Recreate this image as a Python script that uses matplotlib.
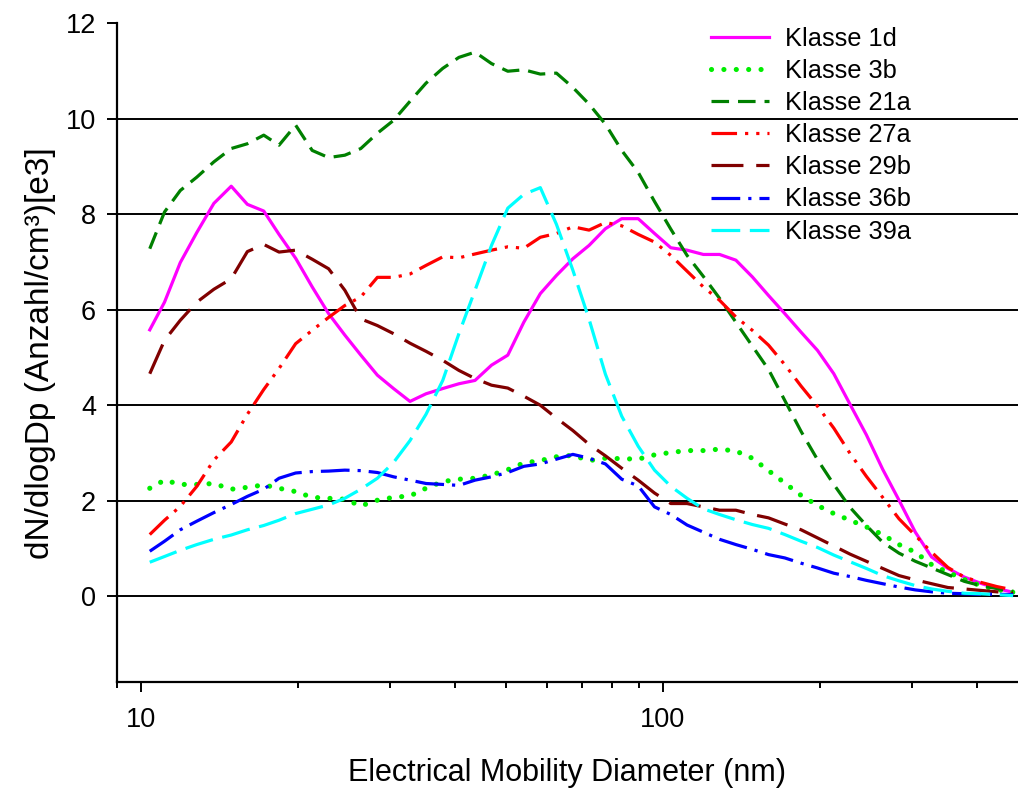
import matplotlib
matplotlib.use("Agg")
import matplotlib.pyplot as plt
from matplotlib.ticker import FixedLocator, NullFormatter

plt.rcParams['font.family'] = ['Liberation Sans', 'DejaVu Sans']

# Electrical mobility diameter channels (nm)
diameter = [10.4, 11.1, 11.9, 12.8, 13.8, 14.9, 16.0, 17.2, 18.4, 19.8,
            21.3, 22.9, 24.6, 26.4, 28.4, 30.5, 32.8, 35.2, 37.9, 40.7,
            43.7, 47.0, 50.5, 54.2, 58.3, 62.6, 67.3, 72.3, 77.7, 83.5,
            89.8, 96.5, 103.7, 111.4, 119.7, 128.6, 138.2, 148.6, 159.6, 171.5,
            184.3, 198.1, 212.9, 228.7, 245.8, 264.1, 283.9, 305.1, 327.8, 352.3,
            378.6, 406.8, 437.1, 469.8]

klasse_1d = [5.58, 6.16, 6.99, 7.62, 8.23, 8.59, 8.21, 8.07, 7.58, 7.08,
             6.48, 5.92, 5.47, 5.05, 4.63, 4.35, 4.08, 4.24, 4.35, 4.45,
             4.52, 4.84, 5.05, 5.74, 6.34, 6.72, 7.07, 7.35, 7.70, 7.91,
             7.91, 7.60, 7.30, 7.25, 7.16, 7.16, 7.04, 6.69, 6.30, 5.92,
             5.53, 5.15, 4.66, 4.02, 3.38, 2.66, 2.01, 1.34, 0.82, 0.58,
             0.40, 0.27, 0.16, 0.08]

klasse_3b = [2.26, 2.43, 2.34, 2.34, 2.36, 2.24, 2.28, 2.33, 2.26, 2.19,
             2.07, 2.05, 2.03, 1.89, 2.01, 2.07, 2.10, 2.26, 2.40, 2.45,
             2.47, 2.54, 2.65, 2.79, 2.84, 2.92, 2.95, 2.84, 2.89, 2.88,
             2.87, 2.96, 3.01, 3.05, 3.05, 3.08, 3.04, 2.89, 2.63, 2.37,
             2.11, 1.90, 1.73, 1.59, 1.45, 1.29, 1.08, 0.92, 0.66, 0.50,
             0.35, 0.22, 0.14, 0.08]

klasse_21a = [7.28, 8.05, 8.50, 8.78, 9.10, 9.38, 9.48, 9.66, 9.45, 9.87,
              9.34, 9.19, 9.24, 9.38, 9.70, 9.97, 10.37, 10.75, 11.06, 11.29,
              11.40, 11.16, 11.00, 11.03, 10.94, 10.96, 10.66, 10.31, 9.89, 9.34,
              8.88, 8.27, 7.69, 7.14, 6.70, 6.24, 5.74, 5.24, 4.75, 4.10,
              3.45, 2.86, 2.34, 1.86, 1.48, 1.13, 0.90, 0.73, 0.59, 0.45,
              0.31, 0.22, 0.16, 0.10]

klasse_27a = [1.29, 1.59, 1.88, 2.30, 2.85, 3.23, 3.81, 4.33, 4.77, 5.29,
              5.57, 5.84, 6.09, 6.27, 6.68, 6.68, 6.75, 6.93, 7.11, 7.09,
              7.17, 7.25, 7.32, 7.29, 7.52, 7.60, 7.74, 7.67, 7.83, 7.76,
              7.58, 7.42, 7.14, 6.81, 6.48, 6.20, 5.85, 5.57, 5.26, 4.85,
              4.40, 3.98, 3.52, 2.99, 2.51, 2.07, 1.62, 1.27, 0.92, 0.60,
              0.40, 0.29, 0.20, 0.13]

klasse_29b = [4.66, 5.36, 5.78, 6.16, 6.43, 6.65, 7.22, 7.37, 7.21, 7.25,
              7.06, 6.86, 6.41, 5.81, 5.67, 5.50, 5.30, 5.13, 4.94, 4.73,
              4.56, 4.42, 4.36, 4.19, 4.00, 3.73, 3.47, 3.18, 2.94, 2.68,
              2.43, 2.16, 1.94, 1.94, 1.87, 1.80, 1.80, 1.71, 1.64, 1.51,
              1.39, 1.22, 1.05, 0.88, 0.73, 0.58, 0.43, 0.34, 0.26, 0.18,
              0.15, 0.12, 0.09, 0.06]

klasse_36b = [0.94, 1.15, 1.39, 1.57, 1.75, 1.92, 2.09, 2.24, 2.47, 2.58,
              2.61, 2.62, 2.64, 2.63, 2.59, 2.50, 2.43, 2.36, 2.34, 2.32,
              2.43, 2.50, 2.59, 2.72, 2.77, 2.87, 2.97, 2.89, 2.77, 2.45,
              2.31, 1.87, 1.71, 1.49, 1.34, 1.19, 1.08, 0.98, 0.87, 0.80,
              0.69, 0.59, 0.48, 0.41, 0.33, 0.26, 0.19, 0.13, 0.09, 0.06,
              0.05, 0.04, 0.04, 0.03]

klasse_39a = [0.71, 0.83, 0.96, 1.08, 1.19, 1.28, 1.39, 1.48, 1.59, 1.73,
              1.82, 1.91, 2.05, 2.24, 2.47, 2.80, 3.26, 3.81, 4.52, 5.50,
              6.41, 7.35, 8.13, 8.42, 8.56, 7.79, 6.83, 5.80, 4.65, 3.77,
              3.14, 2.64, 2.30, 2.05, 1.83, 1.71, 1.60, 1.50, 1.42, 1.29,
              1.15, 1.02, 0.86, 0.72, 0.58, 0.43, 0.32, 0.22, 0.15, 0.10,
              0.06, 0.05, 0.03, 0.01]

labels = ["Klasse 1d", "Klasse 3b", "Klasse 21a", "Klasse 27a",
          "Klasse 29b", "Klasse 36b", "Klasse 39a"]

y_ticks = [0, 2, 4, 6, 8, 10, 12]
x_major = [10, 100]
x_minor = [9, 20, 30, 40, 50, 60, 70, 80, 90, 200, 300, 400]

fig = plt.figure(figsize=(10.18, 7.89), dpi=100)
ax = fig.add_axes([117/1018, 1 - 682/789, 1 - 117/1018, (682 - 23.5)/789])

lw = 2.3
ax.plot(diameter, klasse_1d, color='#FF00FF', lw=lw, ls='-', label=labels[0])
ax.plot(diameter, klasse_3b, color='#00EE00', lw=3.7, ls=(0, (0.01, 2.4)),
        dash_capstyle='round', label=labels[1])
ax.plot(diameter, klasse_21a, color='#008000', lw=lw, ls=(0, (5.5, 2.8)), label=labels[2])
ax.plot(diameter, klasse_27a, color='#FF0000', lw=lw, ls=(0, (8, 2.5, 1, 2.5, 1, 2.5)), label=labels[3])
ax.plot(diameter, klasse_29b, color='#800000', lw=lw, ls=(0, (10, 4)), label=labels[4])
ax.plot(diameter, klasse_36b, color='#0000FF', lw=lw, ls=(0, (9, 2.5, 1, 2.5)), label=labels[5])
ax.plot(diameter, klasse_39a, color='#00FFFF', lw=lw, ls=(0, (9, 3)), label=labels[6])

ax.set_xscale('log')
ax.set_xlim(9, 480)
ax.set_ylim(-1.8, 12)
ax.xaxis.set_major_locator(FixedLocator(x_major))
ax.xaxis.set_minor_locator(FixedLocator(x_minor))
ax.xaxis.set_minor_formatter(NullFormatter())
ax.set_xticklabels([str(v) for v in x_major])
ax.set_yticks(y_ticks)
ax.set_yticklabels([str(v) for v in y_ticks])

ax.grid(True, axis='y', color='black', lw=1.4)
ax.set_axisbelow(True)
for s in ['top', 'right']:
    ax.spines[s].set_visible(False)
for s in ['left', 'bottom']:
    ax.spines[s].set_linewidth(1.6)

ax.tick_params(axis='y', which='major', direction='out', length=7.2, width=1.4,
               labelsize=19.5, pad=8)
ax.tick_params(axis='x', which='major', direction='out', length=7, width=1.4,
               labelsize=19.5, pad=11)
ax.tick_params(axis='x', which='minor', direction='out', length=4.5, width=1.4)

ax.set_xlabel("Electrical Mobility Diameter (nm)", fontsize=22, labelpad=18)
ax.set_ylabel("dN/dlogDp (Anzahl/cm³)[e3]", fontsize=24, labelpad=7)

leg = ax.legend(loc='upper left', bbox_to_anchor=(693/1018, 1 - 9/789),
                bbox_transform=fig.transFigure, frameon=False, fontsize=18.3,
                handlelength=2.3, handletextpad=0.6, labelspacing=0.32,
                borderpad=0.2)

fig.savefig("out.png", dpi=100)
